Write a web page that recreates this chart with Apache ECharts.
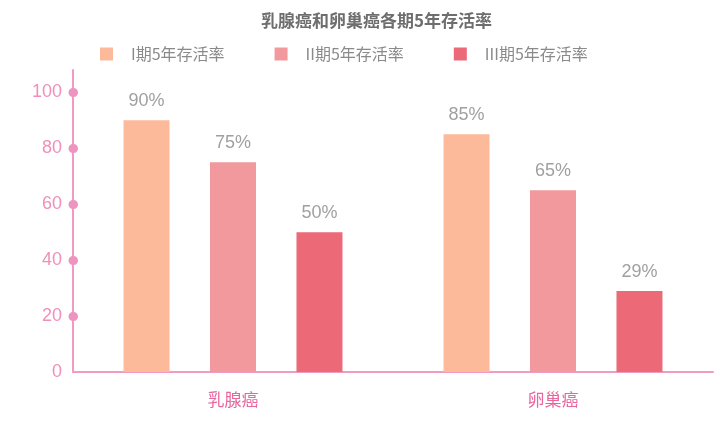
<!DOCTYPE html>
<html><head><meta charset="utf-8">
<script src="https://cdn.jsdelivr.net/npm/echarts@6/dist/echarts.min.js"></script>
<style>html,body{margin:0;padding:0;background:#fff}#c{width:720px;height:426px}</style>
</head><body><div id="c"></div>
<script>
var title = '乳腺癌和卵巢癌各期5年存活率';
var categories = ['乳腺癌', '卵巢癌'];
var seriesNames = ['I期5年存活率', 'II期5年存活率', 'III期5年存活率'];
var stage1 = [90, 85];
var stage2 = [75, 65];
var stage3 = [50, 29];
var yTicks = [0, 20, 40, 60, 80, 100];
var colors = ['#FDBA9B', '#F2999D', '#EC6978'];

var chart = echarts.init(document.getElementById('c'));
var font = '"Noto Sans CJK SC", "Noto Sans", sans-serif';
var numFont = '"Liberation Sans", Arial, sans-serif';
var data = [stage1, stage2, stage3];
chart.setOption({
  animation: false,
  title: {
    text: title, left: 256, top: 7,
    textStyle: {fontSize: 17, fontWeight: 'bold', color: '#6e6e6e', fontFamily: font}
  },
  legend: {
    left: 95, top: 41, itemWidth: 13, itemHeight: 13, itemGap: 50,
    icon: 'rect',
    textStyle: {fontSize: 16, color: '#8a8a8a', fontFamily: font, padding: [0, 0, 0, 13]},
    data: seriesNames
  },
  grid: {left: 73, right: 7, top: 70, bottom: 54, containLabel: false},
  xAxis: {
    type: 'category', data: categories,
    axisLine: {lineStyle: {color: '#F29BC2', width: 2}},
    axisTick: {show: false},
    axisLabel: {color: '#E8669E', fontSize: 17, fontFamily: font, margin: 19}
  },
  yAxis: {
    type: 'value', min: 0, max: 108, interval: 20,
    splitLine: {show: false},
    axisLine: {show: true, lineStyle: {color: '#F29BC2', width: 2}},
    axisTick: {show: true, inside: true, length: 0.5, customValues: yTicks.slice(1),
      lineStyle: {color: '#EE94BE', width: 9, cap: 'round'}},
    axisLabel: {customValues: yTicks, color: '#F090BA', fontSize: 18, fontFamily: numFont, margin: 11}
  },
  series: seriesNames.map(function (n, i) {
    return {
      name: n, type: 'bar', data: data[i], barWidth: 46, barGap: '88%',
      itemStyle: {color: colors[i]},
      label: {show: true, position: 'top', distance: 10, formatter: '{c}%',
        color: '#a0a0a0', fontSize: 18, fontFamily: numFont}
    };
  })
});
</script></body></html>
